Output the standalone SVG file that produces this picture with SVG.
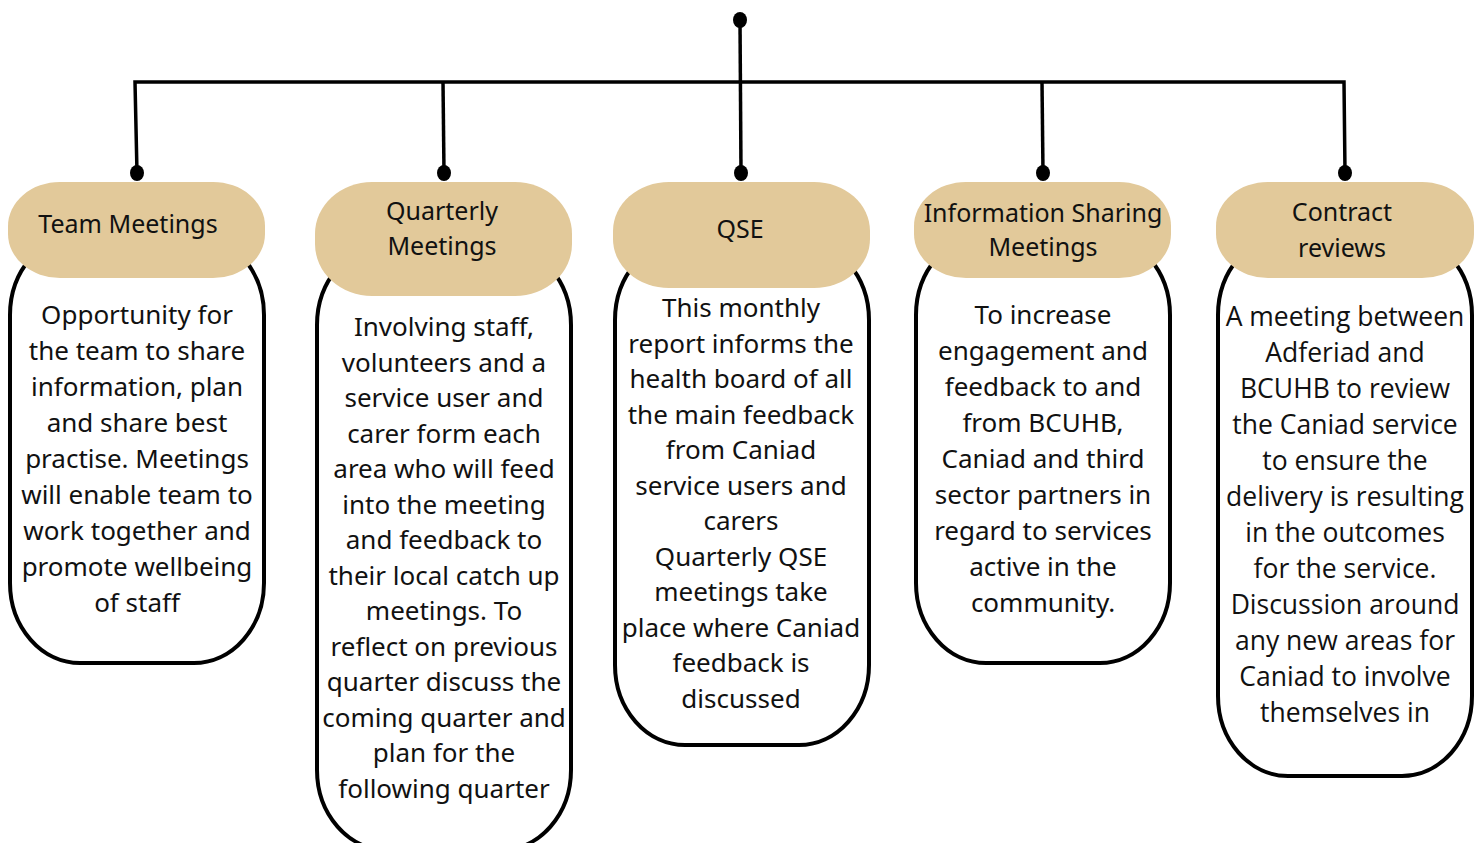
<svg xmlns="http://www.w3.org/2000/svg" width="1483" height="843" viewBox="0 0 1483 843">
<style>
.body{fill:#fff;stroke:#000;stroke-width:4}
.pill{fill:#E2C99A}
.t{font-family:"Noto Sans","Liberation Sans",sans-serif;font-size:25px;fill:#111;text-anchor:middle}
.b{font-family:"Noto Sans","Liberation Sans",sans-serif;font-size:26px;fill:#111;text-anchor:middle}
.t5{font-family:"Open Sans","Liberation Sans",sans-serif;font-size:26.5px;fill:#111;text-anchor:middle}
.ln{fill:none;stroke:#000;stroke-width:3.5}
.dot{fill:#000}
</style>
<rect width="1483" height="843" fill="#fff"/>
<g id="connectors">
<path class="ln" d="M740 20 L741 173"/>
<path class="ln" d="M137 173 L135 82 L1344 82 L1345 173"/>
<path class="ln" d="M443 82 L444 173"/>
<path class="ln" d="M1042 82 L1043 173"/>
<ellipse class="dot" cx="740" cy="20" rx="7" ry="8"/>
<ellipse class="dot" cx="137" cy="173" rx="7" ry="8"/>
<ellipse class="dot" cx="444" cy="173" rx="7" ry="8"/>
<ellipse class="dot" cx="741" cy="173" rx="7" ry="8"/>
<ellipse class="dot" cx="1043" cy="173" rx="7" ry="8"/>
<ellipse class="dot" cx="1345" cy="173" rx="7" ry="8"/>
</g>
<g id="team-meetings">
<rect class="body" x="10" y="235" width="254" height="428" rx="70" ry="80"/>
<rect class="pill" x="8" y="182" width="257" height="96" rx="52" ry="44"/>
<text class="t" x="128" y="233">Team Meetings</text>
<text class="b" x="137" y="324">Opportunity for<tspan x="137" dy="36">the team to share</tspan><tspan x="137" dy="36">information, plan</tspan><tspan x="137" dy="36">and share best</tspan><tspan x="137" dy="36">practise. Meetings</tspan><tspan x="137" dy="36">will enable team to</tspan><tspan x="137" dy="36">work together and</tspan><tspan x="137" dy="36">promote wellbeing</tspan><tspan x="137" dy="36">of staff</tspan></text>
</g>
<g id="quarterly-meetings">
<rect class="body" x="317" y="245" width="254" height="605" rx="70" ry="80"/>
<rect class="pill" x="315" y="182" width="257" height="114" rx="57" ry="52"/>
<text class="t" x="442" y="220">Quarterly<tspan x="442" dy="35">Meetings</tspan></text>
<text class="b" x="444" y="336">Involving staff,<tspan x="444" dy="35.5">volunteers and a</tspan><tspan x="444" dy="35.5">service user and</tspan><tspan x="444" dy="35.5">carer form each</tspan><tspan x="444" dy="35.5">area who will feed</tspan><tspan x="444" dy="35.5">into the meeting</tspan><tspan x="444" dy="35.5">and feedback to</tspan><tspan x="444" dy="35.5">their local catch up</tspan><tspan x="444" dy="35.5">meetings. To</tspan><tspan x="444" dy="35.5">reflect on previous</tspan><tspan x="444" dy="35.5">quarter discuss the</tspan><tspan x="444" dy="35.5">coming quarter and</tspan><tspan x="444" dy="35.5">plan for the</tspan><tspan x="444" dy="35.5">following quarter</tspan></text>
</g>
<g id="qse">
<rect class="body" x="615" y="240" width="254" height="505" rx="70" ry="80"/>
<rect class="pill" x="613" y="182" width="257" height="106" rx="56" ry="49"/>
<text class="t" x="740" y="238">QSE</text>
<text class="b" x="741" y="317">This monthly<tspan x="741" dy="35.5">report informs the</tspan><tspan x="741" dy="35.5">health board of all</tspan><tspan x="741" dy="35.5">the main feedback</tspan><tspan x="741" dy="35.5">from Caniad</tspan><tspan x="741" dy="35.5">service users and</tspan><tspan x="741" dy="35.5">carers</tspan><tspan x="741" dy="35.5">Quarterly QSE</tspan><tspan x="741" dy="35.5">meetings take</tspan><tspan x="741" dy="35.5">place where Caniad</tspan><tspan x="741" dy="35.5">feedback is</tspan><tspan x="741" dy="35.5">discussed</tspan></text>
</g>
<g id="information-sharing">
<rect class="body" x="916" y="235" width="254" height="428" rx="70" ry="80"/>
<rect class="pill" x="914" y="182" width="257" height="96" rx="52" ry="44"/>
<text class="t" x="1043" y="222">Information Sharing<tspan x="1043" dy="34">Meetings</tspan></text>
<text class="b" x="1043" y="324">To increase<tspan x="1043" dy="36">engagement and</tspan><tspan x="1043" dy="36">feedback to and</tspan><tspan x="1043" dy="36">from BCUHB,</tspan><tspan x="1043" dy="36">Caniad and third</tspan><tspan x="1043" dy="36">sector partners in</tspan><tspan x="1043" dy="36">regard to services</tspan><tspan x="1043" dy="36">active in the</tspan><tspan x="1043" dy="36">community.</tspan></text>
</g>
<g id="contract-reviews">
<rect class="body" x="1218" y="235" width="254" height="541" rx="70" ry="80"/>
<rect class="pill" x="1216" y="182" width="258" height="96" rx="52" ry="44"/>
<text class="t" x="1342" y="221">Contract<tspan x="1342" dy="36">reviews</tspan></text>
<text class="t5" x="1345" y="326">A meeting between<tspan x="1345" dy="36">Adferiad and</tspan><tspan x="1345" dy="36">BCUHB to review</tspan><tspan x="1345" dy="36">the Caniad service</tspan><tspan x="1345" dy="36">to ensure the</tspan><tspan x="1345" dy="36">delivery is resulting</tspan><tspan x="1345" dy="36">in the outcomes</tspan><tspan x="1345" dy="36">for the service.</tspan><tspan x="1345" dy="36">Discussion around</tspan><tspan x="1345" dy="36">any new areas for</tspan><tspan x="1345" dy="36">Caniad to involve</tspan><tspan x="1345" dy="36">themselves in</tspan></text>
</g>
</svg>
